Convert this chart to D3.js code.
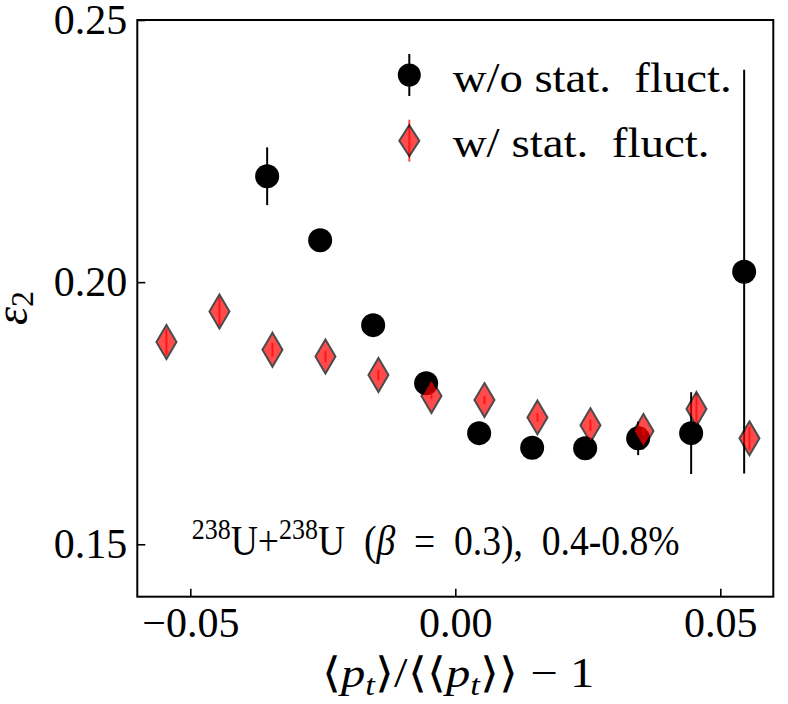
<!DOCTYPE html>
<html>
<head>
<meta charset="utf-8">
<script src="https://cdn.jsdelivr.net/npm/d3@7"></script>
<style>
  body { margin: 0; background: #fff; }
  svg text { font-family: "Liberation Serif", serif; fill: #000; }
</style>
</head>
<body>
<div class="chart"></div>
<script>
// bin centres, black series is shifted a bit left, red a bit right
let xBlack = [-0.0355, -0.0255, -0.0155, -0.0055, 0.0045, 0.0145, 0.0245, 0.0345, 0.0445, 0.0545];
let yBlack = [0.2202, 0.2080, 0.1918, 0.1807, 0.1712, 0.1684, 0.1683, 0.1702, 0.1712, 0.2020];
let eBlack = [0.0055, 0.0015, 0.0012, 0.0010, 0.0010, 0.0010, 0.0010, 0.0032, 0.0078, 0.0385];

let xRed = [-0.0545, -0.0445, -0.0345, -0.0245, -0.0145, -0.0045, 0.0055, 0.0155, 0.0255, 0.0355, 0.0455, 0.0555];
let yRed = [0.1886, 0.1944, 0.1871, 0.1858, 0.1823, 0.1783, 0.1775, 0.1742, 0.1727, 0.1716, 0.1758, 0.1702];
let eRed = [0.0025, 0.0027, 0.0013, 0.0011, 0.0010, 0.0006, 0.0008, 0.0008, 0.0011, 0.0008, 0.0030, 0.0022];

let xTicks = [-0.05, 0, 0.05];
let yTicks = [0.15, 0.20, 0.25];
let legendLabels = ["w/o stat. fluct.", "w/ stat. fluct."];

let margin = { top: 20, right: 14.7, bottom: 107.3, left: 137.3 },
    width = 788 - margin.left - margin.right,
    height = 704 - margin.top - margin.bottom;

let svg = d3.select(".chart")
  .append("svg")
  .attr("width", 788)
  .attr("height", 704)
  .append("g")
  .attr("transform", "translate(" + margin.left + "," + margin.top + ")");

let x = d3.scaleLinear().domain([-0.06, 0.06]).range([0, width]);
let y = d3.scaleLinear().domain([0.14, 0.25]).range([height, 0]);

let xAxis = d3.axisBottom(x).tickValues(xTicks).tickFormat(d3.format(".2f"))
  .tickSizeInner(-8).tickSizeOuter(0);
let yAxis = d3.axisLeft(y).tickValues(yTicks).tickFormat(d3.format(".2f"))
  .tickSizeInner(-8).tickSizeOuter(0);

let xAxisGroup = svg.append("g")
  .attr("transform", "translate(0," + height + ")")
  .call(xAxis);
xAxisGroup.selectAll("text")
  .attr("y", 40).attr("dy", null)
  .style("font-size", "42px");

let yAxisGroup = svg.append("g").call(yAxis);
yAxisGroup.selectAll("text")
  .attr("x", -10).attr("dy", "0.32em")
  .style("font-size", "42px");

svg.selectAll(".domain").remove();
svg.selectAll(".tick line").attr("stroke", "#000").attr("stroke-width", 1.6);

// frame
svg.append("rect")
  .attr("width", width).attr("height", height)
  .attr("fill", "none").attr("stroke", "#000").attr("stroke-width", 2);

let diamond = "M0,-17L10,0L0,17L-10,0Z";

let black = xBlack.map((d, i) => ({ x: d, y: yBlack[i], e: eBlack[i] }));
let red = xRed.map((d, i) => ({ x: d, y: yRed[i], e: eRed[i] }));

// black series
svg.selectAll(".err-black")
  .data(black).enter().append("line")
  .attr("x1", d => x(d.x)).attr("x2", d => x(d.x))
  .attr("y1", d => y(d.y - d.e)).attr("y2", d => y(d.y + d.e))
  .attr("stroke", "#000").attr("stroke-width", 2);

svg.selectAll(".dot-black")
  .data(black).enter().append("circle")
  .attr("cx", d => x(d.x)).attr("cy", d => y(d.y)).attr("r", 12)
  .attr("fill", "#000");

// red series, semi transparent
svg.selectAll(".err-red")
  .data(red).enter().append("line")
  .attr("x1", d => x(d.x)).attr("x2", d => x(d.x))
  .attr("y1", d => y(d.y - d.e)).attr("y2", d => y(d.y + d.e))
  .attr("stroke", "red").attr("stroke-width", 2).attr("opacity", 0.7);

svg.selectAll(".dot-red")
  .data(red).enter().append("path")
  .attr("d", diamond)
  .attr("transform", d => "translate(" + x(d.x) + "," + y(d.y) + ")")
  .attr("fill", "red").attr("stroke", "#000").attr("stroke-width", 2)
  .attr("opacity", 0.7);

// fit a text's width by stretching it horizontally from its left edge
function fit(t, w) {
  let bb = t.node().getBBox();
  let k = w / bb.width;
  t.attr("transform", "translate(" + bb.x + ",0) scale(" + k + ",1) translate(" + (-bb.x) + ",0)");
}

// legend
let leg = svg.append("g").attr("transform", "translate(" + (409.3 - margin.left) + "," + (75 - margin.top) + ")");
leg.append("line").attr("y1", -21).attr("y2", 21).attr("stroke", "#000").attr("stroke-width", 2);
leg.append("circle").attr("r", 11.5).attr("fill", "#000");
leg.append("line").attr("y1", 44.7).attr("y2", 86.7).attr("stroke", "red").attr("stroke-width", 2).attr("opacity", 0.7);
leg.append("path").attr("d", "M0,-15.5L10,0L0,15.5L-10,0Z").attr("transform", "translate(0,65.7)")
  .attr("fill", "red").attr("stroke", "#000").attr("stroke-width", 2).attr("opacity", 0.7);

let legWidths = [279, 257];
legendLabels.forEach((s, i) => {
  let t = leg.append("text").attr("x", 43.4).attr("y", 16.7 + i * 65)
    .style("font-size", "43px").style("white-space", "pre").text(s.replace(". ", ".  "));
  fit(t, legWidths[i]);
});

// annotation
let ann = svg.append("text")
  .attr("x", 191.7 - margin.left).attr("y", 555 - margin.top)
  .style("font-size", "42px").style("white-space", "pre");
ann.append("tspan").style("font-size", "29px").attr("dy", -16).text("238");
ann.append("tspan").attr("dy", 16).text("U+");
ann.append("tspan").style("font-size", "29px").attr("dy", -16).text("238");
ann.append("tspan").attr("dy", 16).text("U  (");
ann.append("tspan").style("font-style", "italic").text("β");
ann.append("tspan").text("  =  0.3),  0.4-0.8%");
fit(ann, 488);

// axis titles
let xl = svg.append("text")
  .attr("x", 321.7 - margin.left).attr("y", 687 - margin.top)
  .style("font-size", "42px");
xl.append("tspan").text("⟨");
xl.append("tspan").style("font-style", "italic").text("p");
xl.append("tspan").style("font-style", "italic").style("font-size", "30px").attr("dy", 8).text("t");
xl.append("tspan").attr("dy", -8).text("⟩/⟨⟨");
xl.append("tspan").style("font-style", "italic").text("p");
xl.append("tspan").style("font-style", "italic").style("font-size", "30px").attr("dy", 8).text("t");
xl.append("tspan").attr("dy", -8).text("⟩⟩ − 1");
fit(xl, 268);

let yl = svg.append("text")
  .attr("transform", "translate(" + (27 - margin.left) + "," + (308 - margin.top) + ") rotate(-90)")
  .attr("text-anchor", "middle")
  .style("font-size", "46px");
yl.append("tspan").style("font-style", "italic").text("ε");
yl.append("tspan").style("font-size", "32px").attr("dy", 6).text("2");
</script>
</body>
</html>
